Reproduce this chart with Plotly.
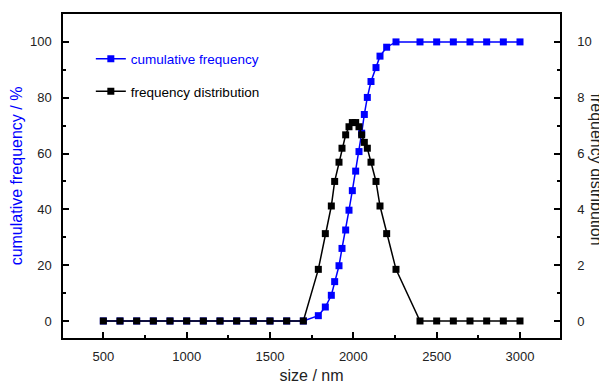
import plotly.graph_objects as go

# ---- data ----
size_nm = [500, 600, 700, 800, 900, 1000, 1100, 1200, 1300, 1400, 1500, 1600, 1700,
           1790, 1832, 1868, 1888, 1914, 1932, 1954, 1974, 1994, 2014, 2034, 2050,
           2066, 2084, 2106, 2136, 2160, 2200, 2256,
           2400, 2500, 2600, 2700, 2800, 2900, 3000]

freq_dist = [0, 0, 0, 0, 0, 0, 0, 0, 0, 0, 0, 0, 0,
             1.85, 3.13, 4.12, 5.0, 5.69, 6.19, 6.67, 6.96, 7.11, 7.11, 6.96, 6.67,
             6.4, 6.19, 5.69, 5.0, 4.12, 3.13, 1.85,
             0, 0, 0, 0, 0, 0, 0]

cum_freq = [0, 0, 0, 0, 0, 0, 0, 0, 0, 0, 0, 0, 0,
            1.9, 5.0, 9.2, 14.1, 19.8, 26.0, 32.6, 39.7, 46.7, 53.7, 60.7, 67.3,
            74.0, 80.1, 85.8, 90.8, 94.9, 98.1, 100,
            100, 100, 100, 100, 100, 100, 100]

x_tickvals = [500, 1000, 1500, 2000, 2500, 3000]
y_left_ticks = [0, 20, 40, 60, 80, 100]
y_right_ticks = [0, 2, 4, 6, 8, 10]

FONT = "Liberation Sans, Arial, sans-serif"
BLUE = "#0000FF"

fig = go.Figure()

fig.add_trace(go.Scatter(
    x=size_nm, y=cum_freq, mode="lines+markers",
    name="<span style='color:#0000FF'>cumulative frequency</span>",
    line=dict(color=BLUE, width=1.5),
    marker=dict(symbol="square", size=7, color=BLUE),
    legendgroup="a",
))

fig.add_trace(go.Scatter(
    x=size_nm, y=freq_dist, mode="lines+markers", yaxis="y2",
    name="frequency distribution",
    line=dict(color="black", width=1.5),
    marker=dict(symbol="square", size=7, color="black"),
    legendgroup="b",
))

axis_common = dict(
    showline=True, linecolor="black", linewidth=1.5,
    ticks="inside", ticklen=6, tickwidth=1.5, tickcolor="black",
    showgrid=False, zeroline=False, automargin=False,
    tickfont=dict(family=FONT, size=13, color="#222"),
)

# the page body adds an 8 px offset, so the figure is 8 px smaller
fig.update_layout(
    width=599, height=377,
    margin=dict(l=55, r=47, t=6, b=47),
    paper_bgcolor="white", plot_bgcolor="white",
    font=dict(family=FONT, size=13, color="black"),
    xaxis=dict(
        **axis_common,
        range=[258, 3240],
        tickvals=x_tickvals,
        mirror=True,
        minor=dict(dtick=250, tick0=0, ticks="inside", ticklen=3, tickwidth=1.5, tickcolor="black"),
        title=dict(text="size / nm", font=dict(family=FONT, size=16, color="#222"), standoff=6),
        ticklabelstandoff=6,
    ),
    yaxis=dict(
        **axis_common,
        range=[-6.1, 110],
        tickvals=y_left_ticks,
        minor=dict(dtick=10, tick0=0, ticks="inside", ticklen=3, tickwidth=1.5, tickcolor="black"),
        title=dict(text="cumulative frequency / %", font=dict(family=FONT, size=16, color=BLUE), standoff=7),
        ticklabelstandoff=7,
    ),
    yaxis2=dict(
        **axis_common,
        overlaying="y", side="right",
        range=[-0.61, 11],
        tickvals=y_right_ticks,
        minor=dict(dtick=1, tick0=0, ticks="inside", ticklen=3, tickwidth=1.5, tickcolor="black"),
        ticklabelstandoff=13,
    ),
    legend=dict(
        x=0.056, y=0.909, xanchor="left", yanchor="top",
        bgcolor="rgba(0,0,0,0)", borderwidth=0,
        font=dict(family=FONT, size=13.5, color="black"),
        tracegroupgap=12,
    ),
    showlegend=True,
    annotations=[dict(
        text="frequency distribution", textangle=90,
        xref="paper", yref="paper", x=1.0725, y=0.52,
        xanchor="center", yanchor="middle", showarrow=False,
        font=dict(family=FONT, size=16, color="#222"),
    )],
)

fig.write_html("out.html")
